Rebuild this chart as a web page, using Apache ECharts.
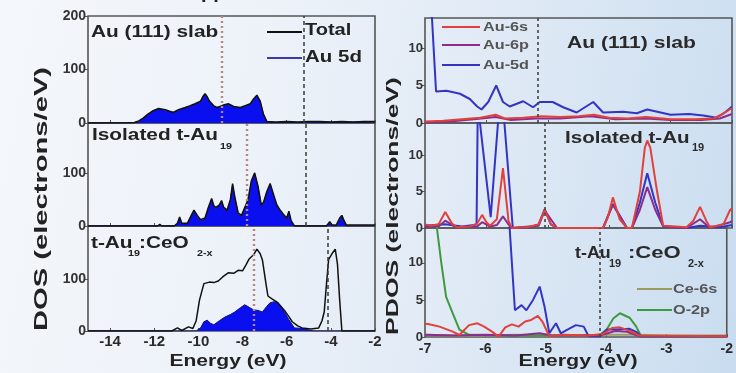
<!DOCTYPE html>
<html><head><meta charset="utf-8">
<script src="https://cdn.jsdelivr.net/npm/echarts@6/dist/echarts.min.js"></script>
<style>
html,body{margin:0;padding:0;width:736px;height:373px;overflow:hidden;
background:linear-gradient(100deg,#f4f7fb 0%,#edf2f9 35%,#dfe9f5 65%,#c9ddf0 100%);}
#c{width:736px;height:373px;}
</style></head><body><div id="c"></div>
<script>
// ---------- tick labels ----------
var leftEnergyTicks = [-14,-12,-10,-8,-6,-4,-2];
var rightEnergyTicks = [-7,-6,-5,-4,-3,-2];
var dosTicksTop = [0,100,200];
var dosTicks = [0,100];
var pdosTicks = [0,5,10];

// ---------- left: DOS (electrons/eV) vs Energy (eV) ----------
var slabTotal = [[-15,0],[-13.2,0.5],[-12.9,1],[-12.7,4],[-12.5,9],[-12.3,16],[-12.05,23],[-11.8,27],[-11.5,25],[-11.3,22],[-11.15,20],[-10.9,25],[-10.6,29],[-10.4,32],[-10.15,36],[-9.9,41],[-9.8,49],[-9.7,55],[-9.6,49],[-9.5,41],[-9.3,32],[-9.15,29],[-8.9,33],[-8.65,36],[-8.4,31],[-8.1,29],[-7.85,33],[-7.65,36],[-7.5,45],[-7.35,52],[-7.2,41],[-7.05,16],[-6.9,3],[-6.5,2],[-6,3],[-5.5,2],[-5,3],[-4.5,3],[-4,2],[-3.5,3],[-3,2],[-2.5,3],[-2,3]];
var slabAu5d = [[-15,0],[-13.2,0],[-12.9,0.5],[-12.7,3],[-12.5,8],[-12.3,15],[-12.05,22],[-11.8,26],[-11.5,24],[-11.3,21],[-11.15,19],[-10.9,24],[-10.6,28],[-10.4,31],[-10.15,35],[-9.9,40],[-9.8,48],[-9.7,54],[-9.6,48],[-9.5,40],[-9.3,31],[-9.15,28],[-8.9,32],[-8.65,35],[-8.4,30],[-8.1,28],[-7.85,32],[-7.65,35],[-7.5,44],[-7.35,51],[-7.2,40],[-7.05,15],[-6.9,2],[-6.5,1],[-6,1.5],[-5.5,1],[-5,1.5],[-4.5,1],[-4,1.5],[-3.5,1],[-3,1.5],[-2.5,1],[-2,1.5]];
var isoTotal = [[-15,0],[-11.85,0],[-11.75,3],[-11.65,0],[-11.1,0],[-10.95,5],[-10.85,17],[-10.75,5],[-10.5,5],[-10.3,22],[-10.2,30],[-10.05,20],[-9.9,12],[-9.7,15],[-9.55,35],[-9.4,52],[-9.3,38],[-9.2,35],[-9.05,40],[-8.95,48],[-8.85,35],[-8.7,30],[-8.55,50],[-8.45,80],[-8.35,55],[-8.2,25],[-8.05,20],[-7.9,35],[-7.75,50],[-7.6,85],[-7.45,100],[-7.3,75],[-7.15,40],[-7.05,45],[-6.9,65],[-6.75,80],[-6.6,60],[-6.45,40],[-6.3,30],[-6.15,22],[-6.0,15],[-5.9,28],[-5.8,10],[-5.65,0],[-4.2,0],[-4.05,8],[-3.95,2],[-3.75,2],[-3.6,15],[-3.5,20],[-3.4,10],[-3.3,2],[-2,2]];
var isoAu5d = [[-15,0],[-11.85,0],[-11.75,2],[-11.65,0],[-11.1,0],[-10.95,4],[-10.85,15],[-10.75,4],[-10.5,4],[-10.3,20],[-10.2,28],[-10.05,18],[-9.9,10],[-9.7,13],[-9.55,33],[-9.4,50],[-9.3,36],[-9.2,33],[-9.05,38],[-8.95,46],[-8.85,33],[-8.7,28],[-8.55,48],[-8.45,78],[-8.35,53],[-8.2,23],[-8.05,18],[-7.9,33],[-7.75,48],[-7.6,83],[-7.45,98],[-7.3,73],[-7.15,38],[-7.05,43],[-6.9,63],[-6.75,78],[-6.6,58],[-6.45,38],[-6.3,28],[-6.15,20],[-6.0,13],[-5.9,26],[-5.8,8],[-5.65,0],[-4.2,0],[-4.05,5],[-3.95,0],[-3.75,0],[-3.6,12],[-3.5,17],[-3.4,8],[-3.3,0],[-2,0]];
var ceTotal = [[-15,0],[-11.2,0],[-10.95,6],[-10.75,1],[-10.45,8],[-10.25,5],[-10.1,20],[-9.95,60],[-9.75,92],[-9.5,95],[-9.3,94],[-9.1,97],[-8.9,105],[-8.65,113],[-8.4,112],[-8.2,118],[-8.0,117],[-7.85,128],[-7.7,140],[-7.5,148],[-7.35,159],[-7.2,150],[-7.1,138],[-6.95,95],[-6.85,68],[-6.65,62],[-6.4,55],[-6.1,40],[-5.9,28],[-5.75,18],[-5.5,10],[-5.3,6],[-4.9,4],[-4.55,6],[-4.4,20],[-4.3,37],[-4.2,90],[-4.1,139],[-3.95,150],[-3.8,159],[-3.7,130],[-3.6,60],[-3.5,0],[-2,0]];
var ceAu5d = [[-15,0],[-10.1,0],[-9.9,6],[-9.75,18],[-9.6,21],[-9.45,15],[-9.3,12],[-9.05,20],[-8.8,27],[-8.55,32],[-8.35,37],[-8.1,45],[-7.9,51],[-7.7,46],[-7.5,41],[-7.3,40],[-7.1,37],[-6.9,48],[-6.75,55],[-6.55,57],[-6.4,55],[-6.25,46],[-6.1,37],[-5.9,22],[-5.65,6],[-5.3,5],[-5.0,2],[-4.8,0],[-2,0]];
var dCenterLines = [-8.93,-7.8,-7.48];
var fermiLeft = [-5.22,-5.13,-4.13];

// ---------- right: PDOS (electrons/eV) vs Energy (eV) ----------
var slabAu6s = [[-7,0.2],[-6.7,0.3],[-6.4,0.5],[-6.1,0.7],[-5.85,1.1],[-5.7,0.6],[-5.4,0.7],[-5.1,0.9],[-4.8,0.8],[-4.5,0.9],[-4.25,1.1],[-4.0,0.7],[-3.7,0.6],[-3.4,0.8],[-3.0,0.5],[-2.6,0.5],[-2.3,0.6],[-2.15,1.2],[-2,2.0]];
var slabAu6p = [[-7,0.1],[-6.6,0.2],[-6.2,0.5],[-5.85,0.8],[-5.6,0.4],[-5.2,0.6],[-4.8,0.6],[-4.3,0.9],[-3.9,0.5],[-3.4,0.6],[-3,0.4],[-2.5,0.4],[-2.2,0.6],[-2,1.2]];
var slabAu5dP = [[-7,30],[-6.9,16],[-6.82,4.2],[-6.65,4.3],[-6.43,3.9],[-6.27,3.2],[-6.15,2.2],[-6.08,1.8],[-5.97,2.8],[-5.84,5.0],[-5.73,2.8],[-5.62,2.2],[-5.4,2.9],[-5.24,2.1],[-5.13,2.8],[-4.92,2.8],[-4.75,2.1],[-4.53,1.4],[-4.26,2.8],[-4.1,1.4],[-3.77,1.5],[-3.55,1.3],[-3.38,1.8],[-3.0,1.1],[-2.7,1.2],[-2.47,1.0],[-2.25,0.7],[-2.1,1.5],[-2,2.2]];
var isoAu6s = [[-7,0.5],[-6.9,0.3],[-6.78,0.5],[-6.67,2.2],[-6.56,0.6],[-6.48,0.1],[-6.27,0.2],[-6.15,0.6],[-6.07,1.8],[-6.0,0.8],[-5.94,0.3],[-5.83,1.2],[-5.73,8.2],[-5.64,1.0],[-5.59,0],[-5.34,0.1],[-5.15,0.5],[-5.05,2.5],[-4.95,0.5],[-4.85,0],[-4.1,0],[-4.02,1.5],[-3.94,4.2],[-3.83,1.2],[-3.71,0],[-3.63,0],[-3.5,5],[-3.42,11],[-3.38,12],[-3.33,11],[-3.22,5],[-3.12,0.3],[-2.74,0.1],[-2.63,1.0],[-2.52,2.9],[-2.42,1.0],[-2.36,0.1],[-2.14,0.5],[-2.03,2.5],[-2,2.7]];
var isoAu6p = [[-7,0.2],[-6.78,0.2],[-6.67,1.0],[-6.5,0.1],[-6.15,0.2],[-6.07,0.8],[-5.94,0.2],[-5.83,0.4],[-5.73,1.6],[-5.6,0],[-5.15,0.3],[-5.05,2.4],[-4.85,0],[-4.1,0],[-3.94,3.2],[-3.71,0],[-3.63,0],[-3.5,2.5],[-3.38,5.6],[-3.25,2.5],[-3.12,0.2],[-2.74,0],[-2.52,1.2],[-2.36,0],[-2.03,0.8],[-2,1.0]];
var isoAu5dP = [[-7,0.3],[-6.67,0.5],[-6.4,0.2],[-6.2,0.4],[-6.16,0.5],[-6.14,17],[-5.93,1.5],[-5.76,20],[-5.57,0],[-5.3,0.1],[-5.15,0.5],[-5.05,2.6],[-4.95,0.5],[-4.85,0],[-4.1,0],[-3.94,3.3],[-3.71,0],[-3.63,0],[-3.5,3.5],[-3.38,7.5],[-3.25,3.5],[-3.12,0.2],[-2.74,0],[-2.52,0.3],[-2.2,0.1],[-2,0.4]];
var ceAu6s = [[-7,1.8],[-6.95,1.76],[-6.76,1.4],[-6.54,0.72],[-6.43,0.27],[-6.27,1.6],[-6.13,1.85],[-6.02,1.4],[-5.89,0.72],[-5.78,0.05],[-5.67,1.3],[-5.56,1.7],[-5.45,1.4],[-5.34,2.1],[-5.24,2.3],[-5.13,2.84],[-5.05,2.0],[-4.94,0.1],[-4.7,0.3],[-4.3,0.2],[-4.05,0.4],[-3.9,1.2],[-3.77,1.3],[-3.6,0.8],[-3.45,0.2],[-2,0.1]];
var ceAu6p = [[-7,0.3],[-6.5,0.2],[-6,0.3],[-5.5,0.2],[-5.1,0.5],[-4.9,0.2],[-4.1,0.2],[-3.85,0.8],[-3.65,0.7],[-3.45,0.1],[-2,0.1]];
var ceAu5dP = [[-7,30],[-5.65,30],[-5.6,15],[-5.51,3.6],[-5.4,4.3],[-5.32,3.6],[-5.21,5.0],[-5.1,6.8],[-5.02,4.1],[-4.94,0.5],[-4.83,1.85],[-4.75,0.5],[-4.64,1.0],[-4.5,1.6],[-4.37,1.4],[-4.29,0.1],[-4.1,0.1],[-3.99,1.0],[-3.82,1.0],[-3.61,1.1],[-3.5,0.7],[-3.42,0.1],[-2,0.1]];
var ceCe6s = [[-7,0.3],[-6.5,0.2],[-6,0.2],[-5.5,0.3],[-5,0.2],[-4.5,0.2],[-4,0.3],[-3.5,0.3],[-3,0.2],[-2.5,0.2],[-2,0.2]];
var ceO2p = [[-7,40],[-6.9,25],[-6.8,14.5],[-6.73,10],[-6.65,5.4],[-6.54,3.2],[-6.43,1.0],[-6.27,0.3],[-5.5,0.2],[-4.5,0.2],[-4.1,0.3],[-3.99,1.0],[-3.88,2.5],[-3.77,3.2],[-3.61,2.6],[-3.5,1.4],[-3.42,0.1],[-2,0.1]];
var fermiRight = [-5.16,-5.05,-4.1];

// ---------- layout ----------
var grids = [
  {left:88, top:16, width:287, height:107},
  {left:88, top:123, width:287, height:103},
  {left:88, top:226, width:287, height:105},
  {left:425, top:18, width:307, height:105},
  {left:425, top:123, width:307, height:105},
  {left:425, top:228, width:307, height:109}
];
var yMax = [200,194,204,14,14.4,14.7];
var FONT = '"Liberation Sans", Arial, sans-serif';
var C6S='#e2403a', C6P='#8c2c8e', C5D='#3434c4', CCE='#9c9a5c', CO='#3f9a3f';

var option = {
  animation:false,
  backgroundColor:'transparent',
  grid: grids.map(function(g){return Object.assign({show:true, borderColor:'#555', borderWidth:1.6, backgroundColor:'transparent', containLabel:false}, g);}),
  xAxis: grids.map(function(g,i){
    var left = i<3, bottom = (i===2||i===5);
    return {type:'value', gridIndex:i, min:left?-15:-7, max:-2, interval:1,
      axisLine:{show:false}, splitLine:{show:false},
      axisTick:{show:true, inside:true, length:3, lineStyle:{color:'#555'}, customValues: left?leftEnergyTicks:rightEnergyTicks},
      axisLabel:{show:bottom, customValues: left?leftEnergyTicks:rightEnergyTicks, margin:left?3:5,
        fontFamily:FONT, fontWeight:'bold', fontSize:left?15:14, color:'#2a2a2a',
        formatter:function(v){return String(v);}}};
  }),
  yAxis: grids.map(function(g,i){
    var left = i<3;
    var ticks = i===0?dosTicksTop:(left?dosTicks:pdosTicks);
    return {type:'value', gridIndex:i, min:0, max:yMax[i], interval:left?100:5,
      axisLine:{show:false}, splitLine:{show:false},
      axisTick:{show:true, length:3, lineStyle:{color:'#555'}, customValues:ticks},
      axisLabel:{customValues:ticks, margin:2, hideOverlap:false, fontFamily:FONT, fontWeight:'bold', fontSize:left?14:13, color:'#333'}};
  }),
  series: []
};

function ln(name, data, gi, color, width, extra){
  return Object.assign({type:'line', name:name, data:data, xAxisIndex:gi, yAxisIndex:gi,
    symbol:'none', showSymbol:false, clip:true, animation:false,
    lineStyle:{color:color, width:width}, itemStyle:{color:color}}, extra||{});
}
function marks(list){
  return {symbol:['none','none'], silent:true, label:{show:false}, animation:false, data:list};
}
var pinkLine = function(v){return {xAxis:v, lineStyle:{color:'#b58787', type:[2,3], width:2.4}};};
var blackDash = function(v){return {xAxis:v, lineStyle:{color:'#3a3a3a', type:[4,3], width:1.5}};};
var dotRight = function(v){return {xAxis:v, lineStyle:{color:'#444', type:[3,3], width:1.6}};};

var leftSets = [[slabTotal,slabAu5d],[isoTotal,isoAu5d],[ceTotal,ceAu5d]];
leftSets.forEach(function(s,i){
  option.series.push(ln('Au 5d', s[1], i, '#101070', 1, {areaStyle:{color:'#0a0ff0', opacity:1}, z:2}));
  option.series.push(ln('Total', s[0], i, '#111', 1.5, {z:3, markLine:marks([pinkLine(dCenterLines[i]), blackDash(fermiLeft[i])])}));
});
var rightSets = [[slabAu5dP,slabAu6p,slabAu6s],[isoAu5dP,isoAu6p,isoAu6s],[ceAu5dP,ceAu6p,ceAu6s]];
rightSets.forEach(function(s,i){
  var gi = i+3;
  if(i===2){
    option.series.push(ln('Ce-6s', ceCe6s, gi, CCE, 2));
    option.series.push(ln('O-2p', ceO2p, gi, CO, 2));
  }
  option.series.push(ln('Au-5d', s[0], gi, C5D, 2));
  option.series.push(ln('Au-6p', s[1], gi, C6P, 2));
  option.series.push(ln('Au-6s', s[2], gi, C6S, 2, {markLine:marks([dotRight(fermiRight[i])])}));
});

// ---------- texts ----------
function txt(t, x, y, size, sx, color, extra){
  return Object.assign({type:'text', x:x, y:y, scaleX:sx||1, silent:true, z:100,
    style:{text:t, font:'bold '+size+'px '+FONT, fill:color||'#222', textAlign:'left', textVerticalAlign:'middle'}}, extra||{});
}
function seg(x1,x2,y,color){
  return {type:'line', silent:true, z:100, shape:{x1:x1,y1:y,x2:x2,y2:y}, style:{stroke:color, lineWidth:2}};
}
var g = [];
g.push(txt('pp', 201, -8, 20, 1, '#222'));
// left panel labels
g.push(txt('Au (111) slab', 91, 33, 16, 1.3));
g.push(txt('Isolated t-Au', 92, 136, 16, 1.3));
g.push(txt('19', 220, 147, 9, 1.2));
g.push(txt('t-Au', 91, 244, 16, 1.3));
g.push(txt('19', 128, 254, 9, 1.2));
g.push(txt(':CeO', 139, 244, 16, 1.3));
g.push(txt('2-x', 197, 254, 9, 1.2));
// left legend
g.push(seg(267,302,32,'#111')); g.push(txt('Total', 305, 31, 16, 1.25));
g.push(seg(267,302,58,'#3a3ab0')); g.push(txt('Au 5d', 305, 58, 16, 1.28));
// right panel labels
g.push(txt('Au (111) slab', 567, 43, 17, 1.24, '#2a2a2a'));
g.push(txt('Isolated t-Au', 565, 138, 17, 1.21, '#2a2a2a'));
g.push(txt('19', 692, 148, 10, 1.1, '#2a2a2a'));
g.push(txt('t-Au', 575, 253, 17, 1.05, '#2a2a2a'));
g.push(txt('19', 609, 264, 10, 1.1, '#2a2a2a'));
g.push(txt(':CeO', 628, 253, 17, 1.3, '#2a2a2a'));
g.push(txt('2-x', 688, 264, 10, 1.1, '#2a2a2a'));
// right legends
g.push(seg(442,480,27,C6S)); g.push(txt('Au-6s', 483, 27, 13, 1.25, '#555'));
g.push(seg(442,480,45,C6P)); g.push(txt('Au-6p', 483, 45, 13, 1.25, '#555'));
g.push(seg(442,480,65,C5D)); g.push(txt('Au-5d', 483, 65, 13, 1.25, '#555'));
g.push(seg(637,672,289,CCE)); g.push(txt('Ce-6s', 673, 289, 13, 1.25, '#555'));
g.push(seg(637,672,310,CO)); g.push(txt('O-2p', 673, 310, 13, 1.25, '#555'));
// axis titles
function ctr(t, x, y, size, sx, rot){
  return {type:'text', x:x, y:y, rotation:rot||0, scaleX:sx, silent:true, z:100,
    style:{text:t, font:'bold '+size+'px '+FONT, fill:'#222', textAlign:'center', textVerticalAlign:'middle'}};
}
g.push(ctr('Energy (eV)', 228, 361, 17, 1.24));
g.push(ctr('Energy (eV)', 578, 361, 17, 1.26));
g.push(ctr('DOS (electrons/eV)', 42, 199, 18, 1.62, Math.PI/2));
g.push(ctr('PDOS (electrons/eV)', 393, 206, 17, 1.56, Math.PI/2));
option.graphic = {elements:g};

var chart = echarts.init(document.getElementById('c'), null, {renderer:'canvas'});
chart.setOption(option);
</script></body></html>
